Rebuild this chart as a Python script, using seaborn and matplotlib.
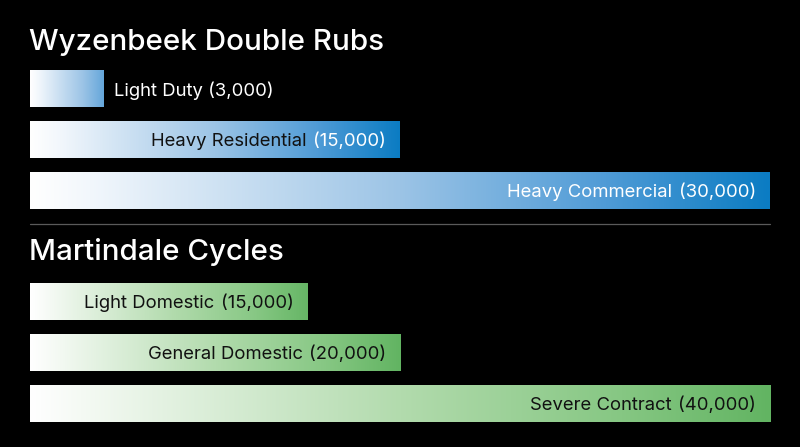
import matplotlib
matplotlib.use("Agg")
import matplotlib.pyplot as plt
from matplotlib.colors import LinearSegmentedColormap
from matplotlib.lines import Line2D
import numpy as np
import seaborn as sns

# data
wyz_title = "Wyzenbeek Double Rubs"
wyz_names = ["Light Duty", "Heavy Residential", "Heavy Commercial"]
wyz_values = [3000, 15000, 30000]

mart_title = "Martindale Cycles"
mart_names = ["Light Domestic", "General Domestic", "Severe Contract"]
mart_values = [15000, 20000, 40000]

# label colours (name part, value part)
wyz_name_colors = ["white", "#111111", "white"]
wyz_value_colors = ["white", "white", "white"]
mart_name_colors = ["#111111", "#111111", "#111111"]
mart_value_colors = ["#111111", "#111111", "#111111"]

BLUE = LinearSegmentedColormap.from_list(
    "wyz", [(0, "#ffffff"), (0.08, "#f2f7fc"), (0.5, "#9cc4e6"), (0.78, "#4f9bd6"), (1, "#0b7cc3")])
GREEN = LinearSegmentedColormap.from_list(
    "mart", [(0, "#ffffff"), (0.08, "#f3f9f2"), (0.5, "#b2dbad"), (0.8, "#86c783"), (1, "#62b462")])

sns.set_theme(style="white")
plt.rcParams["font.family"] = ["Inter", "DejaVu Sans"]

W, H = 800, 447
FS = 13.3
fig = plt.figure(figsize=(W / 100, H / 100), dpi=100, facecolor="black")


def px_axes(top, bottom):
    return fig.add_axes([30 / W, 1 - bottom / H, 740 / W, (bottom - top) / H])


def section(ax, names, values, cmap, name_colors, value_colors):
    sns.barplot(x=values, y=names, orient="h", ax=ax, width=0.725,
                color="white", linewidth=0, saturation=1)
    ax.set_xlim(0, max(values))
    ax.set_ylim(len(names) - 0.5, -0.5)
    ax.set_facecolor("black")
    ax.axis("off")
    for i, patch in enumerate(ax.patches):
        x0, y0 = patch.get_x(), patch.get_y()
        w, h = patch.get_width(), patch.get_height()
        frac = w / max(values)
        # short bars don't reach the full colour
        grad = np.linspace(0, min(1, 0.6 + frac), 256).reshape(1, -1)
        im = ax.imshow(grad, cmap=cmap, vmin=0, vmax=1, aspect="auto",
                       extent=(x0, x0 + w, y0 + h, y0), interpolation="bicubic", zorder=2)
        im.set_clip_path(patch)
        patch.set_facecolor("none")

        label_value = f"({values[i]:,})"
        if frac > 0.2:
            vt = ax.annotate(label_value, xy=(x0 + w, i), xytext=(-10, 0),
                             textcoords="offset points", ha="right", va="center_baseline",
                             fontsize=FS, color=value_colors[i], zorder=3)
            ax.annotate(names[i], xy=(0, i), xycoords=(vt, "data"), xytext=(-4.5, 0),
                        textcoords="offset points", ha="right", va="center_baseline",
                        fontsize=FS, color=name_colors[i], zorder=3)
        else:
            ax.annotate(f"{names[i]} {label_value}", xy=(x0 + w, i), xytext=(7, 0),
                        textcoords="offset points", ha="left", va="center_baseline",
                        fontsize=FS, color=name_colors[i], zorder=3)


ax1 = px_axes(63, 216)
section(ax1, wyz_names, wyz_values, BLUE, wyz_name_colors, wyz_value_colors)
ax2 = px_axes(276, 429)
section(ax2, mart_names, mart_values, GREEN, mart_name_colors, mart_value_colors)

fig.text(29 / W, 1 - 42 / H, wyz_title, color="white", fontsize=21.3,
         fontweight="medium", va="center", ha="left")
fig.text(29 / W, 1 - 252 / H, mart_title, color="white", fontsize=21.3,
         fontweight="medium", va="center", ha="left")

fig.add_artist(Line2D([30 / W, 770 / W], [1 - 223.5 / H, 1 - 223.5 / H],
                      color="#5a5a5a", linewidth=0.9))

fig.savefig("out.png", dpi=100, facecolor="black")
